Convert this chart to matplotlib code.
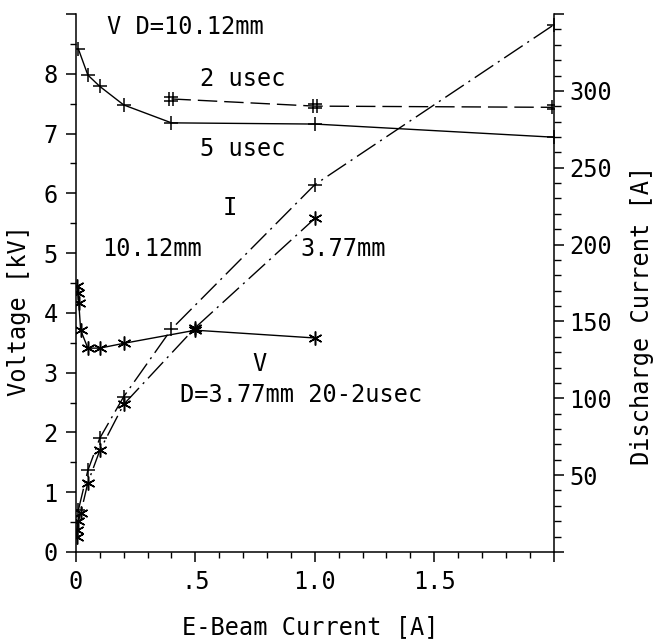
import matplotlib
matplotlib.use("Agg")
import matplotlib.pyplot as plt
from matplotlib.path import Path
import numpy as np

# ---- data ----
# Voltage, D=10.12mm, 5 usec
v10_5_x = [0.01, 0.05, 0.1, 0.2, 0.4, 1.0, 2.0]
v10_5_y = [8.42, 7.98, 7.79, 7.48, 7.18, 7.16, 6.94]
# Voltage, D=10.12mm, 2 usec
v10_2_x = [0.4, 1.0, 2.0]
v10_2_y = [7.58, 7.46, 7.44]
# Voltage, D=3.77mm, 20-2 usec
v3_x = [0.005, 0.008, 0.012, 0.02, 0.05, 0.1, 0.2, 0.5, 1.0]
v3_y = [4.45, 4.33, 4.17, 3.71, 3.41, 3.41, 3.49, 3.71, 3.58]
# Discharge current, D=10.12mm
i10_x = [0.01, 0.05, 0.1, 0.2, 0.4, 1.0, 2.0]
i10_y = [27, 53, 74, 101, 145, 239, 343]
# Discharge current, D=3.77mm
i3_x = [0.003, 0.004, 0.01, 0.02, 0.05, 0.1, 0.2, 0.5, 1.0]
i3_y = [10, 14, 20, 25, 45, 66, 96, 146, 217]

x_ticks = [0, 0.5, 1.0, 1.5, 2.0]
x_labels = ["0", ".5", "1.0", "1.5", ""]
yl_ticks = list(range(0, 10))
yl_labels = [str(v) for v in range(0, 9)] + [""]
yr_ticks = list(range(0, 351, 50))
yr_labels = [""] + [str(v) for v in range(50, 301, 50)] + [""]

FONT = "DejaVu Sans Mono"
FS = 17
plt.rcParams["font.family"] = FONT
plt.rcParams["lines.scale_dashes"] = False

W, H = 660, 641
fig = plt.figure(figsize=(6.6, 6.41), dpi=100)
ax = fig.add_axes([0.115, 0.139, 0.724, 0.839])
ax2 = ax.twinx()

ax.set_xlim(0, 2.0)
ax.set_ylim(0, 9)
ax2.set_ylim(0, 350)

# hash marker
hash_marker = Path(
    [(-0.3, -1), (-0.3, 1), (0.3, -1), (0.3, 1), (-1, -0.3), (1, -0.3), (-1, 0.3), (1, 0.3)],
    [Path.MOVETO, Path.LINETO] * 4,
)
aster = (6, 2, 0)
lw = 1.0
ms = 10

ax.plot(v10_5_x, v10_5_y, color="black", lw=lw, marker="+", ms=ms, mew=1.1)
ax.plot(v10_2_x, v10_2_y, color="black", lw=lw, ls=(0, (14, 5)), marker=hash_marker, ms=ms, mew=1.1)
ax.plot(v3_x, v3_y, color="black", lw=lw, marker=aster, ms=ms, mew=1.1)
ax2.plot(i10_x, i10_y, color="black", lw=lw, ls=(0, (16, 4, 1.5, 4)), marker="+", ms=ms, mew=1.1)
ax2.plot(i3_x, i3_y, color="black", lw=lw, ls=(0, (16, 4, 1.5, 4)), marker=aster, ms=ms, mew=1.1)

# spines
for a in (ax, ax2):
    a.spines["top"].set_visible(False)
    for s in a.spines.values():
        s.set_linewidth(1.1)
ax.spines["right"].set_visible(False)
ax2.spines["left"].set_visible(False)
ax2.spines["bottom"].set_visible(False)

ax.set_xticks(x_ticks)
ax.set_xticklabels(x_labels, fontsize=FS)
ax.set_xticks(np.arange(0, 2.01, 0.1), minor=True)
ax.set_yticks(yl_ticks)
ax.set_yticklabels(yl_labels, fontsize=FS)
ax.set_yticks(np.arange(0, 9.01, 0.5), minor=True)
ax2.set_yticks(yr_ticks)
ax2.set_yticklabels(yr_labels, fontsize=FS)
ax2.set_yticks(np.arange(0, 351, 10), minor=True)

ax.tick_params(axis="both", which="major", direction="out", length=7, width=1.1, pad=6)
ax.tick_params(axis="both", which="minor", direction="out", length=4, width=1.0)
ax2.tick_params(axis="y", which="major", direction="out", length=7, width=1.1, pad=4)
ax2.tick_params(axis="y", which="minor", direction="out", length=5, width=1.0)

# axis labels (placed in figure pixel coordinates)
fig.text(310 / W, 1 - 627 / H, "E-Beam Current [A]", fontsize=FS, ha="center", va="center")
fig.text(19 / W, 1 - 311 / H, "Voltage [kV]", fontsize=FS, ha="center", va="center", rotation=90)
fig.text(642 / W, 1 - 315 / H, "Discharge Current [A]", fontsize=FS, ha="center", va="center", rotation=90)

# annotations
ax.text(0.13, 8.78, "V D=10.12mm", fontsize=FS, ha="left", va="center")
ax.text(0.52, 7.92, "2 usec", fontsize=FS, ha="left", va="center")
ax.text(0.52, 6.75, "5 usec", fontsize=FS, ha="left", va="center")
ax.text(0.646, 5.75, "I", fontsize=FS, ha="center", va="center")
ax.text(0.11, 5.07, "10.12mm", fontsize=FS, ha="left", va="center")
ax.text(0.94, 5.07, "3.77mm", fontsize=FS, ha="left", va="center")
ax.text(0.77, 3.15, "V", fontsize=FS, ha="center", va="center")
ax.text(0.4375, 2.62, "D=3.77mm 20-2usec", fontsize=FS, ha="left", va="center")

fig.savefig("out.png", dpi=100, facecolor="white")
